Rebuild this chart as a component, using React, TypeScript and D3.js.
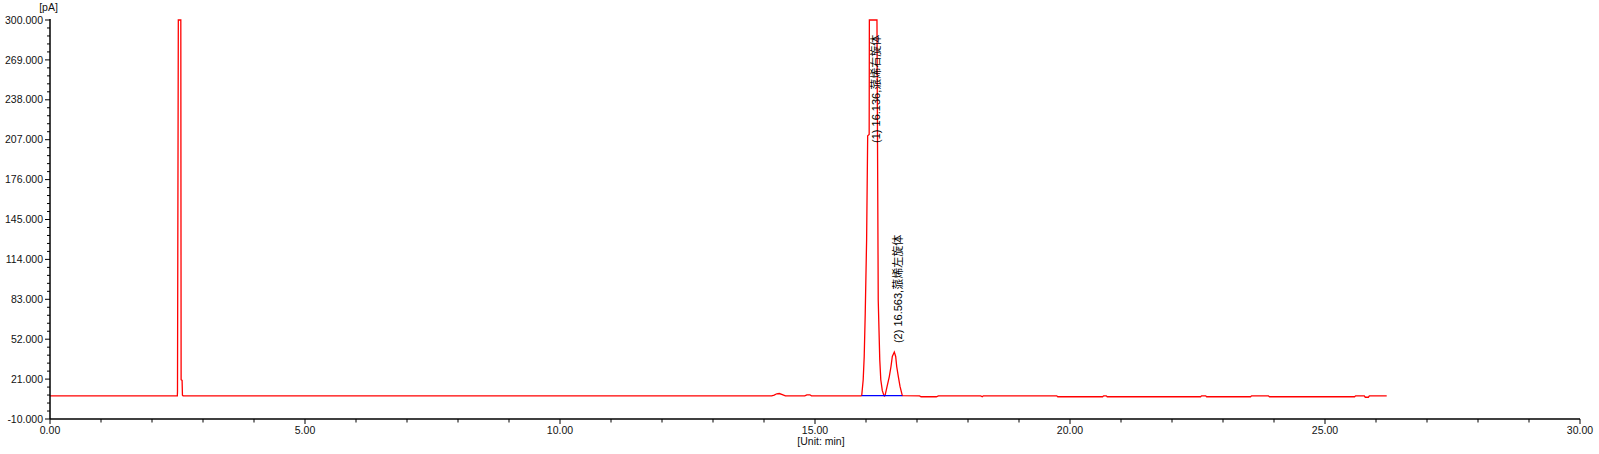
import React from "react";
import * as d3 from "d3";

// Chromatogram trace (time in min, signal in pA)
const times: number[] = [
  0.0, 2.45, 2.497, 2.5, 2.516, 2.565, 2.571, 2.59, 2.597, 2.61,
  14.15, 14.2, 14.25, 14.3, 14.36, 14.42, 14.8, 14.84, 14.9, 14.93,
  15.9, 15.916, 15.945, 15.965, 15.985, 16.012, 16.033, 16.062, 16.066, 16.215,
  16.24, 16.27, 16.29, 16.32, 16.345, 16.36, 16.373, 16.406, 16.457, 16.49,
  16.516, 16.555, 16.582, 16.602, 16.634, 16.667, 16.712, 17.05, 17.08, 17.38,
  17.42, 18.25, 18.28, 18.3, 19.74, 19.76, 20.64, 20.66, 20.71, 20.73,
  22.56, 22.58, 22.66, 22.68, 23.54, 23.56, 23.89, 23.91, 25.58, 25.6,
  25.77, 25.79, 25.85, 25.87, 26.21,
];
const signal: number[] = [
  8.0, 8.0, 8.0, 11.5, 300, 300, 20.5, 20.0, 8.5, 8.0,
  8.0, 8.6, 9.6, 9.8, 9.0, 8.0, 8.0, 8.8, 8.8, 8.0,
  8.0, 8.3, 20.5, 38.6, 72, 129, 210, 211, 300, 300,
  82, 36, 20.5, 12, 9, 7.8, 8.1, 14, 23, 30.8,
  38.6, 42, 38.6, 30.8, 23, 15.3, 8.1, 8.0, 7.3, 7.3,
  8.0, 8.0, 7.3, 8.0, 8.0, 7.3, 7.3, 8.0, 8.0, 7.3,
  7.3, 8.0, 8.0, 7.3, 7.3, 8.0, 8.0, 7.3, 7.3, 8.0,
  8.0, 6.9, 6.9, 8.0, 8.0,
];

// Integration baseline (blue)
const baselineTimes: number[] = [15.916, 16.712];
const baselineValues: number[] = [8.1, 8.1];

// Peak annotations
const peakTimes: number[] = [16.136, 16.563];
const peakLabels: string[] = ["(1) 16.136,蒎烯右旋体", "(2) 16.563,蒎烯左旋体"];
const peakLabelValues: number[] = [204.5, 49.0];

// Axes
const xTicks: number[] = [0, 5, 10, 15, 20, 25, 30];
const xTickLabels: string[] = ["0.00", "5.00", "10.00", "15.00", "20.00", "25.00", "30.00"];
const yTicks: number[] = [-10, 21, 52, 83, 114, 145, 176, 207, 238, 269, 300];
const yTickLabels: string[] = [
  "-10.000", "21.000", "52.000", "83.000", "114.000", "145.000",
  "176.000", "207.000", "238.000", "269.000", "300.000",
];
const xUnit = "[Unit: min]";
const yUnit = "[pA]";

const W = 1599;
const H = 454;
const FONT = "'Liberation Sans', Arial, 'Noto Sans CJK SC', sans-serif";

export default function App() {
  const x = d3.scaleLinear().domain([0, 30]).range([50, 1580]);
  const y = d3.scaleLinear().domain([-10, 300]).range([419, 20]);

  const pts: [number, number][] = times.map((t, i) => [t, signal[i]]);
  const line = d3
    .line<[number, number]>()
    .x((d) => x(d[0]))
    .y((d) => y(d[1]));
  const blPts: [number, number][] = baselineTimes.map((t, i) => [t, baselineValues[i]]);

  const xMinor = d3.range(0, 31, 1).filter((v) => v % 5 !== 0);
  const yMinor: number[] = [];
  for (let i = 0; i < yTicks.length - 1; i++) {
    const step = (yTicks[i + 1] - yTicks[i]) / 5;
    for (let k = 1; k < 5; k++) yMinor.push(yTicks[i] + step * k);
  }

  const x0 = x(0);
  const yB = y(-10);

  return (
    <svg
      width={W}
      height={H}
      style={{ position: "absolute", left: 0, top: 0, background: "#fff" }}
    >
      <rect x={0} y={0} width={W} height={H} fill="#fff" />
      {/* trace */}
      <path d={line(pts) || ""} fill="none" stroke="#ff0000" strokeWidth={1.3} />
      <path d={line(blPts) || ""} fill="none" stroke="#0000ff" strokeWidth={1.3} />

      {/* peak labels */}
      {peakTimes.map((t, i) => (
        <text
          key={"pl" + i}
          transform={`translate(${x(t) + 7},${y(peakLabelValues[i])}) rotate(-90)`}
          fontFamily={FONT}
          fontSize={11}
          fill="#000"
        >
          {peakLabels[i]}
        </text>
      ))}

      {/* axes */}
      <line x1={x0} x2={x0} y1={19} y2={yB} stroke="#000" strokeWidth={1.5} />
      <line x1={x0} x2={x(30)} y1={yB} y2={yB} stroke="#000" strokeWidth={1.5} />

      {yTicks.map((v, i) => (
        <g key={"yt" + i}>
          <line x1={x0 - 5} x2={x0} y1={y(v)} y2={y(v)} stroke="#000" strokeWidth={1} />
          <text
            x={43}
            y={y(v)}
            dy="0.35em"
            textAnchor="end"
            fontFamily={FONT}
            fontSize={10.5}
            fill="#111"
          >
            {yTickLabels[i]}
          </text>
        </g>
      ))}
      {yMinor.map((v, i) => (
        <line key={"ym" + i} x1={x0 - 3} x2={x0} y1={y(v)} y2={y(v)} stroke="#000" strokeWidth={1} />
      ))}

      {xTicks.map((v, i) => (
        <g key={"xt" + i}>
          <line x1={x(v)} x2={x(v)} y1={yB} y2={yB + 5} stroke="#000" strokeWidth={1} />
          <text
            x={x(v)}
            y={yB + 15}
            textAnchor="middle"
            fontFamily={FONT}
            fontSize={10.5}
            fill="#111"
          >
            {xTickLabels[i]}
          </text>
        </g>
      ))}
      {xMinor.map((v, i) => (
        <line key={"xm" + i} x1={x(v)} x2={x(v)} y1={yB} y2={yB + 3.5} stroke="#000" strokeWidth={1} />
      ))}

      <text x={821} y={445} textAnchor="middle" fontFamily={FONT} fontSize={10.5} fill="#111">
        {xUnit}
      </text>
      <text x={48.5} y={11} textAnchor="middle" fontFamily={FONT} fontSize={10.5} fill="#111">
        {yUnit}
      </text>
    </svg>
  );
}
